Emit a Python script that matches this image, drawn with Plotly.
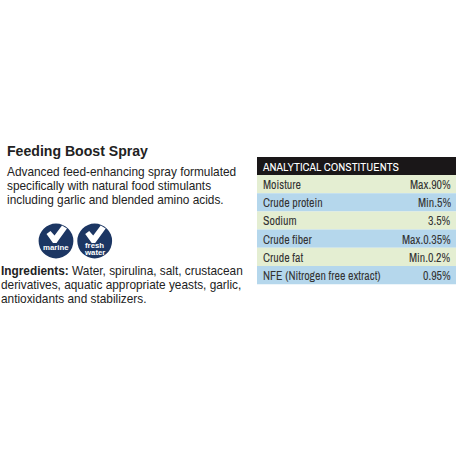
import plotly.graph_objects as go

title = "Feeding Boost Spray"
desc = ["Advanced feed-enhancing spray formulated",
        "specifically with natural food stimulants",
        "including garlic and blended amino acids."]
ingredients = ["<b>Ingredients:</b> Water, spirulina, salt, crustacean",
               "derivatives, aquatic appropriate yeasts, garlic,",
               "antioxidants and stabilizers."]
table_title = "ANALYTICAL CONSTITUENTS"
constituents = ["Moisture", "Crude protein", "Sodium", "Crude fiber", "Crude fat", "NFE (Nitrogen free extract)"]
amounts = ["Max.90%", "Min.5%", "3.5%", "Max.0.35%", "Min.0.2%", "0.95%"]
row_colors = ["#e4eed2", "#b5d7ec"] * 3
NAVY = "#1c3663"
INK = "#222222"
SANS = "Liberation Sans, Arial, sans-serif"
NARROW = "Archivo Narrow, Roboto Condensed, Liberation Sans, sans-serif"

fig = go.Figure()
shapes, ann = [], []

def text(x, y, s, size, color=INK, anchor="left", font=SANS):
    ann.append(dict(x=x, y=y, text=s, showarrow=False, xanchor=anchor, yanchor="middle",
                    xref="x", yref="y", align=anchor, borderpad=0, borderwidth=0,
                    font=dict(family=font, size=size, color=color)))

def rect(x0, y0, x1, y1, color):
    shapes.append(dict(type="rect", x0=x0, y0=y0, x1=x1, y1=y1, xref="x", yref="y",
                       fillcolor=color, line_width=0, layer="below"))

text(7, 151, "<b>" + title + "</b>", 14.1, "#222222")
for i, s in enumerate(desc):
    text(7, 171.5 + i * 14.2, s, 11.85)
for i, s in enumerate(ingredients):
    text(1, 271 + i * 14.2, s, 11.85)

# table
rect(257, 157, 456, 175, "#1a1718")
text(262, 166.8, table_title, 11.8, "#ffffff", font=NARROW)
top, h = 175, 18.2
for i, (c, a) in enumerate(zip(constituents, amounts)):
    rect(257, top + i * h, 456, top + (i + 1) * h, row_colors[i])
    text(262.5, top + i * h + 10, c, 11.9, "#333333", font=NARROW)
    text(451, top + i * h + 10, a, 11.9, "#333333", "right", font=NARROW)

# badges
for cx, labels in ((56, ["marine"]), (94.7, ["fresh", "water"])):
    cy, r = 241, 17.4
    shapes.append(dict(type="circle", x0=cx - r, x1=cx + r, y0=cy - r, y1=cy + r, xref="x", yref="y",
                       fillcolor=NAVY, line_width=0))
    p = [(-9.5, -7), (-5.5, -10), (-1.5, -5.5), (6, -15.5), (11, -12.5), (0.5, 2), (-3, 2)]
    path = "M " + " L ".join(f"{cx + a},{cy + b}" for a, b in p) + " Z"
    shapes.append(dict(type="path", path=path, xref="x", yref="y", fillcolor="#ffffff", line_width=0))
    if len(labels) == 1:
        text(cx, cy + 6.5, "<b>" + labels[0] + "</b>", 7.8, "#ffffff", "center")
    else:
        text(cx, cy + 4.5, "<b>" + labels[0] + "</b>", 7.8, "#ffffff", "center")
        text(cx, cy + 11.2, "<b>" + labels[1] + "</b>", 7.8, "#ffffff", "center")

fig.update_layout(width=461, height=461, margin=dict(l=0, r=0, t=0, b=0),
                  paper_bgcolor="white", plot_bgcolor="white", showlegend=False,
                  xaxis=dict(range=[0, 461], visible=False, fixedrange=True),
                  yaxis=dict(range=[461, 0], visible=False, fixedrange=True),
                  shapes=shapes, annotations=ann)
fig.write_html("out.html", config={"displayModeBar": False},
               post_script="document.body.style.margin='0';")
